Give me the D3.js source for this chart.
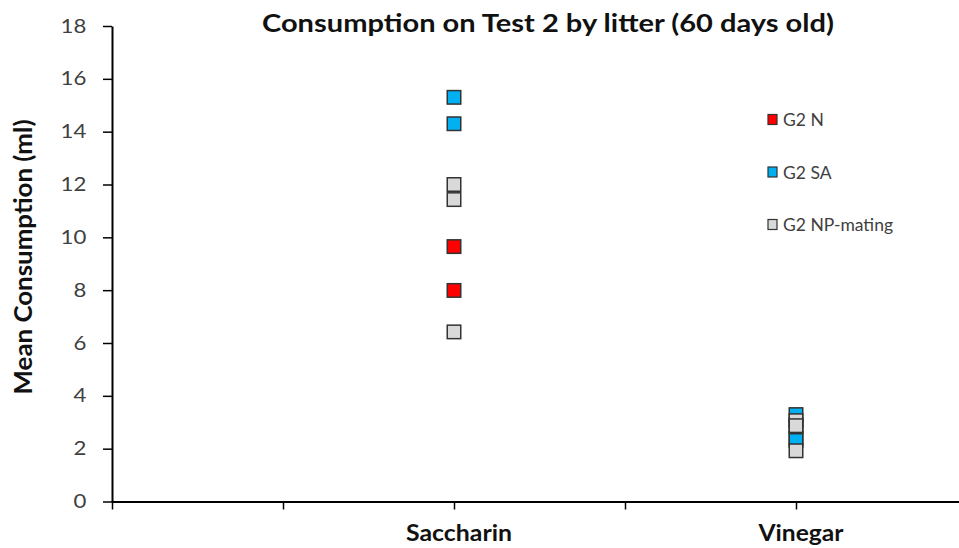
<!DOCTYPE html>
<html>
<head>
<meta charset="utf-8">
<script src="https://cdn.jsdelivr.net/npm/d3@7"></script>
<style>
  body { margin: 0; background: #fff; }
  svg { display: block; font-family: Lato, "Open Sans", sans-serif; }
</style>
</head>
<body>
<div id="chart"></div>
<script>
// data
const categories = ["Saccharin", "Vinegar"];
const categoryPos = [2, 4];
const seriesNames = ["G2 N", "G2 SA", "G2 NP-mating"];
const saccharinValues = [[9.65, 7.99], [15.3, 14.3], [12.0, 11.43, 6.42]];
const vinegarValues = [[2.4, 2.85], [3.29, 2.31], [3.06, 2.87, 1.92]];
const yTicks = [0, 2, 4, 6, 8, 10, 12, 14, 16, 18];
const xTicks = [0, 1, 2, 3, 4, 5];

const colors = ["#FF0000", "#00B0F0", "#D9D9D9"];

const width = 959;
const height = 548;

const svg = d3.select("#chart").append("svg")
  .attr("width", width)
  .attr("height", height);

const x = d3.scaleLinear().domain([0, 5]).range([112, 967]);
const y = d3.scaleLinear().domain([0, 18]).range([501.5, 26]);

// title
svg.append("text")
  .attr("x", 548)
  .attr("y", 32)
  .attr("text-anchor", "middle")
  .attr("textLength", 572)
  .attr("lengthAdjust", "spacingAndGlyphs")
  .style("font-size", "24px")
  .style("font-weight", "bold")
  .attr("fill", "#111")
  .text("Consumption on Test 2 by litter (60 days old)");

// y axis
const yAxis = svg.append("g")
  .attr("transform", `translate(${x(0)},0)`)
  .call(d3.axisLeft(y).tickValues(yTicks).tickSize(9).tickPadding(13).tickSizeOuter(0));
yAxis.select(".domain").attr("stroke", "#000").attr("stroke-width", 2);
yAxis.selectAll(".tick line").attr("stroke", "#000").attr("stroke-width", 1.5);
yAxis.selectAll("text")
  .attr("transform", "scale(1.17,1)")
  .style("font-size", "19px")
  .style("font-family", "Lato, 'Open Sans', sans-serif")
  .attr("fill", "#404040");

// x axis
const xAxis = svg.append("g")
  .attr("transform", `translate(0,${y(0)})`)
  .call(d3.axisBottom(x).tickValues(xTicks).tickSize(8).tickFormat("").tickSizeOuter(0));
xAxis.select(".domain").attr("stroke", "#000").attr("stroke-width", 2);
xAxis.selectAll(".tick line").attr("stroke", "#000").attr("stroke-width", 1.5);

// category labels (kept just inside the bottom edge)
const labelWidths = [106, 85];
svg.append("g").selectAll("text")
  .data(categories)
  .enter().append("text")
  .attr("x", (d, i) => x(categoryPos[i]) + 5)
  .attr("y", 541)
  .attr("text-anchor", "middle")
  .attr("textLength", (d, i) => labelWidths[i])
  .attr("lengthAdjust", "spacingAndGlyphs")
  .style("font-size", "22px")
  .style("font-weight", "bold")
  .attr("fill", "#111")
  .text(d => d);

// y axis title
svg.append("text")
  .attr("transform", "translate(32,257) rotate(-90)")
  .attr("text-anchor", "middle")
  .attr("textLength", 275)
  .attr("lengthAdjust", "spacingAndGlyphs")
  .style("font-size", "25px")
  .style("font-weight", "bold")
  .attr("fill", "#111")
  .text("Mean Consumption (ml)");

// points
const points = [];
seriesNames.forEach((name, s) => {
  saccharinValues[s].forEach(v => points.push({ s, cat: 0, v }));
  vinegarValues[s].forEach(v => points.push({ s, cat: 1, v }));
});

const size = 13.5;
svg.append("g").selectAll("rect")
  .data(points)
  .enter().append("rect")
  .attr("x", d => x(categoryPos[d.cat]) - size / 2)
  .attr("y", d => y(d.v) - size / 2)
  .attr("width", size)
  .attr("height", size)
  .attr("fill", d => colors[d.s])
  .attr("stroke", "#333")
  .attr("stroke-width", 1.5);

// legend
const legend = svg.append("g");
seriesNames.forEach((name, i) => {
  const ly = 119.5 + i * 52.5;
  legend.append("rect")
    .attr("x", 768)
    .attr("y", ly - 5)
    .attr("width", 9)
    .attr("height", 10)
    .attr("fill", colors[i])
    .attr("stroke", "#333")
    .attr("stroke-width", 1.2);
  legend.append("text")
    .attr("x", 783)
    .attr("y", ly + 6.5)
    .style("font-size", "17.5px")
    .attr("fill", "#404040")
    .text(name);
});
</script>
</body>
</html>
